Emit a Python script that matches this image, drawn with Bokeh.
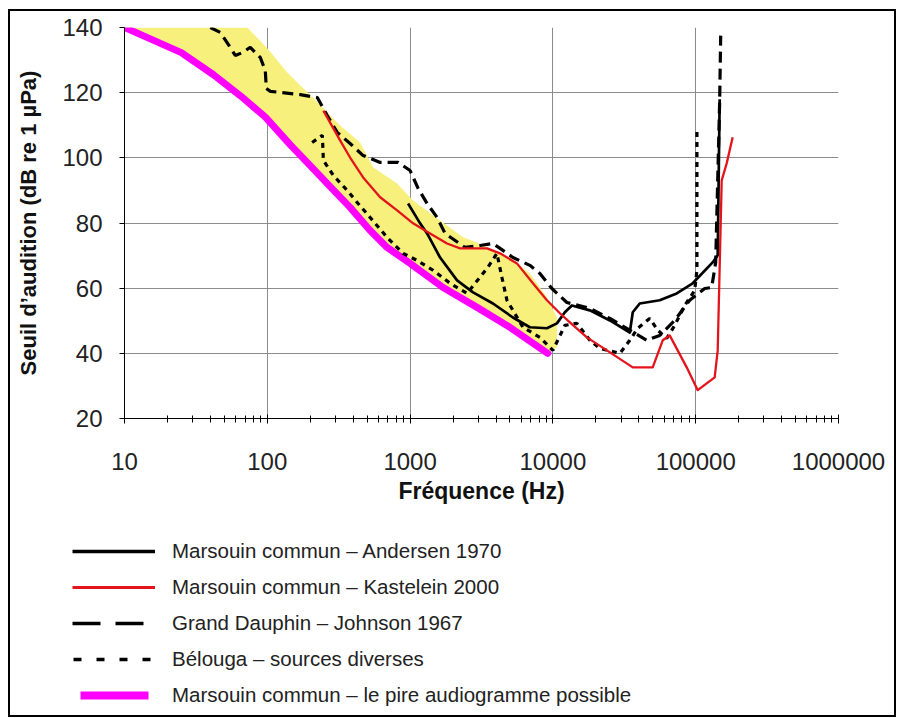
from bokeh.plotting import figure
from bokeh.models import FixedTicker, PrintfTickFormatter, Legend, LegendItem, Range1d
from bokeh.embed import file_html
from bokeh.resources import INLINE

# ---------------- data ----------------
x_ticks = [10, 100, 1000, 10000, 100000, 1000000]
x_minor = [m * 10 ** k for k in range(1, 6) for m in range(2, 10)]
y_ticks = [20, 40, 60, 80, 100, 120, 140]

andersen_f = [968, 1175, 1315, 1622, 2133, 2760, 3805, 5250, 6900, 9080, 10670, 12130,
              13580, 18150, 25060, 34550, 36250, 40550, 55980, 73620, 95280, 131400,
              142600, 147200]
andersen_db = [86.0, 79.9, 76.8, 69.4, 62.4, 58.7, 55.3, 51.0, 48.0, 47.7, 49.2, 52.6,
               54.7, 53.2, 50.1, 46.4, 52.6, 55.3, 56.3, 58.4, 61.5, 67.9,
               70.1, 118.0]

kastelein_f = [247, 324, 380, 469, 617, 811, 1049, 1380, 1815, 2240, 3455, 4260, 5600,
               7245, 9080, 11190, 13150, 17300, 23870, 36250, 50000, 58750, 65760, 86500,
               103300, 135800, 142600, 152100, 164800, 181500]
kastelein_db = [114.5, 105.3, 100.1, 94.0, 87.9, 83.9, 79.9, 76.8, 73.7, 72.2, 72.2, 70.7,
                67.6, 61.5, 56.3, 52.3, 49.5, 44.9, 40.9, 35.7, 35.7, 44.0, 45.5, 35.7,
                28.7, 32.6, 40.9, 93.1, 98.3, 106.3]

johnson_f = [39.9, 46.9, 55, 59.7, 66.9, 76, 89.3, 96.8, 98.4, 105, 170, 224, 263, 309,
             380, 469, 617, 824, 1000, 1138, 1315, 1545, 1758, 2427, 3090, 3805, 4467,
             5250, 6900, 8110, 9840, 12530, 18150, 25060, 34550, 45400, 55980, 71290,
             90780, 115600, 129400, 138000, 147200, 149600]
johnson_db = [140, 138.5, 133.9, 131.4, 132.3, 133.9, 130.8, 126.8, 121.3, 120.4, 119.4,
              118.5, 113.0, 107.8, 104.4, 100.7, 98.6, 98.6, 96.1, 90.6, 86.0, 81.7, 76.8,
              72.5, 73.1, 73.7, 71.6, 69.4, 67.0, 64.5, 59.9, 55.6, 53.8, 50.7, 47.1, 44.0,
              45.5, 50.1, 56.3, 59.9, 60.2, 67.9, 117.6, 137.5]

beluga_f = [206, 243, 247, 290, 363, 432, 525, 690, 893, 1119, 1448, 1905, 2506, 3236,
            3508, 4055, 4395, 4765, 6166, 8110, 10000, 12130, 14720, 18150, 21330, 29440,
            34550, 39270, 47640, 54200, 62660, 71290, 83750, 98400, 102000, 102000]
beluga_db = [104.7, 106.9, 99.2, 94.6, 90.0, 86.0, 81.7, 75.6, 70.7, 68.5, 65.5, 61.5,
             58.4, 64.5, 66.4, 70.7, 63.3, 56.3, 48.0, 44.9, 40.9, 48.6, 49.2, 44.0, 41.5,
             40.0, 44.0, 47.7, 50.7, 47.1, 44.6, 48.6, 54.7, 59.3, 65.5, 109.0]

worst_f = [10, 25, 42, 65, 97, 145, 190, 300, 380, 525, 690, 1000, 1702, 2944, 5000, 9200]
worst_db = [140, 132.3, 125.5, 119, 112.5, 104, 98.6, 89.5, 84.8, 77.7, 72.5, 67.6, 60.2,
            54.1, 48.0, 40.0]

band_upper_f = [10, 72.4, 100, 138, 190.6, 246.6, 323.6, 446.7, 550.8, 811, 1049, 1622,
                2350, 2944, 3805, 5000, 6900, 9080, 10670, 10670]
band_upper_db = [140, 140, 133.6, 126.2, 120.1, 115.2, 109.9, 104.7, 97.1, 92.1, 86.9,
                 80.8, 75.6, 74.0, 71.6, 69.4, 64.5, 57.2, 51.0, 41.8]

labels = [
    "Marsouin commun \u2013 Andersen 1970",
    "Marsouin commun \u2013 Kastelein 2000",
    "Grand Dauphin \u2013 Johnson 1967",
    "B\u00e9louga \u2013 sources diverses",
    "Marsouin commun \u2013 le pire audiogramme possible",
]

# ---------------- styles ----------------
FONT = "Liberation Sans"
BORDER = "2px solid black"
sty_and = dict(line_color="black", line_width=2.7, line_join="round")
sty_kas = dict(line_color="#e3141c", line_width=2.3, line_join="round")
sty_joh = dict(line_color="black", line_width=3.2, line_dash="11 6")
sty_bel = dict(line_color="black", line_width=3.2, line_dash="5 5")
sty_worst = dict(line_color="#ff00ff", line_width=7, line_join="round", line_cap="round")

# ---------------- main figure ----------------
p = figure(width=888, height=517, x_axis_type="log",
           x_range=Range1d(10, 1000000), y_range=Range1d(20, 140),
           output_backend="svg", toolbar_location=None,
           min_border_left=114, min_border_right=60, min_border_top=16,
           min_border_bottom=110)
p.styles = {"border-top": BORDER, "border-left": BORDER, "border-right": BORDER,
            "margin-left": "8px", "margin-top": "9px"}
p.outline_line_color = None
p.background_fill_color = "white"
p.border_fill_color = "white"

p.xaxis.ticker = FixedTicker(ticks=x_ticks, minor_ticks=x_minor)
p.xaxis.formatter = PrintfTickFormatter(format="%d")
p.yaxis.ticker = FixedTicker(ticks=y_ticks)
for ax in (p.xaxis[0], p.yaxis[0]):
    ax.axis_line_color = "black"
    ax.axis_line_width = 1
    ax.major_tick_line_color = "black"
    ax.minor_tick_line_color = "black"
    ax.major_label_text_font = FONT
    ax.major_label_text_font_size = "24px"
    ax.major_label_text_color = "#222222"
    ax.axis_label_text_font = FONT
    ax.axis_label_text_font_style = "bold"
    ax.axis_label_text_color = "#111111"

p.xaxis.axis_label = "Fr\u00e9quence (Hz)"
p.xaxis.axis_label_text_font_size = "23px"
p.xaxis.major_tick_in = 4
p.xaxis.major_tick_out = 5
p.xaxis.minor_tick_in = 3
p.xaxis.minor_tick_out = 4
p.xaxis.major_label_standoff = 29
p.xaxis.axis_label_standoff = 5

p.yaxis.axis_label = "Seuil d\u2019audition (dB re 1 \u00b5Pa)"
p.yaxis.axis_label_text_font_size = "22px"
p.yaxis.major_tick_in = 0
p.yaxis.major_tick_out = 5
p.yaxis.minor_tick_line_color = None
p.yaxis.major_label_standoff = 17
p.yaxis.axis_label_standoff = 18

p.xgrid.ticker = FixedTicker(ticks=x_ticks)
p.ygrid.ticker = FixedTicker(ticks=y_ticks)
for g in (p.xgrid[0], p.ygrid[0]):
    g.grid_line_color = "#8c8c8c"
    g.grid_line_width = 1

p.patch(band_upper_f + worst_f[::-1], band_upper_db + worst_db[::-1],
        fill_color="#f8f07c", line_color=None)
p.line(worst_f, worst_db, **sty_worst)
p.line(beluga_f, beluga_db, **sty_bel)
p.line(johnson_f, johnson_db, **sty_joh)
p.line(andersen_f, andersen_db, **sty_and)
p.line(kastelein_f, kastelein_db, **sty_kas)

# ---------------- legend figure (separate root, below the chart) ----------------
# its ranges exclude the data, so the series lines only feed the legend keys
q = figure(width=888, height=191, x_range=Range1d(0, 1), y_range=Range1d(0, 1),
           output_backend="svg", toolbar_location=None,
           x_axis_location=None, y_axis_location=None,
           min_border=0, min_border_left=0, min_border_right=0,
           min_border_top=0, min_border_bottom=0)
q.styles = {"border-bottom": BORDER, "border-left": BORDER, "border-right": BORDER,
            "margin-left": "8px"}
q.grid.visible = False
q.outline_line_color = None
q.background_fill_color = "white"
q.border_fill_color = "white"

l_and = q.line(andersen_f, andersen_db, line_color="black", line_width=3.5)
l_kas = q.line(kastelein_f, kastelein_db, line_color="#e3141c", line_width=3)
l_joh = q.line(johnson_f, johnson_db, line_color="black", line_width=3.5,
               line_dash="28 15 28 100")
l_bel = q.line(beluga_f, beluga_db, line_color="black", line_width=3.5,
               line_dash="0 1 8 15 8 15 8 15 8 100")
l_worst = q.line(worst_f, worst_db, line_color="#ff00ff", line_width=8,
                 line_dash="0 8 68 100")

legend = Legend(items=[
    LegendItem(label=labels[0], renderers=[l_and]),
    LegendItem(label=labels[1], renderers=[l_kas]),
    LegendItem(label=labels[2], renderers=[l_joh]),
    LegendItem(label=labels[3], renderers=[l_bel]),
    LegendItem(label=labels[4], renderers=[l_worst]),
], location=(62, 10))
legend.border_line_color = None
legend.background_fill_alpha = 0
legend.padding = 0
legend.margin = 0
legend.glyph_width = 83
legend.glyph_height = 24
legend.label_height = 24
legend.spacing = 12
legend.label_standoff = 17
legend.label_text_font = FONT
legend.label_text_font_size = "20.5px"
legend.label_text_color = "#222222"
q.add_layout(legend)

open("out.html", "w").write(file_html([p, q], INLINE))
